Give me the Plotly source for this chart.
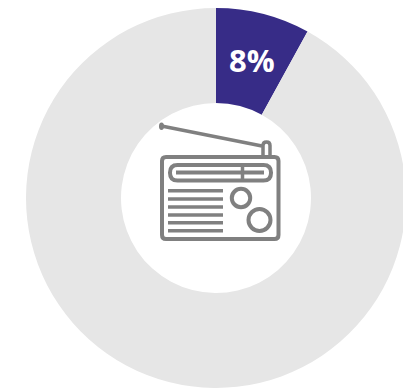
import plotly.graph_objects as go

# Share of listeners, in percent
categories = ["Radio", "Other"]
shares = [8, 92]
slice_colors = ["#372C87", "#E6E6E6"]

W, H = 406, 389
ICON = "#808080"


def line(x0, y0, x1, y1, width):
    return dict(type="line", xref="x", yref="y", x0=x0, y0=y0, x1=x1, y1=y1,
                line=dict(color=ICON, width=width))


def rounded(x0, y0, x1, y1, r, width):
    path = (f"M{x0 + r},{y0} L{x1 - r},{y0} Q{x1},{y0} {x1},{y0 + r} L{x1},{y1 - r} "
            f"Q{x1},{y1} {x1 - r},{y1} L{x0 + r},{y1} Q{x0},{y1} {x0},{y1 - r} "
            f"L{x0},{y0 + r} Q{x0},{y0} {x0 + r},{y0} Z")
    return dict(type="path", xref="x", yref="y", path=path, line=dict(color=ICON, width=width))


def ring(cx, cy, r, width):
    return dict(type="circle", xref="x", yref="y", x0=cx - r, y0=cy - r, x1=cx + r, y1=cy + r,
                line=dict(color=ICON, width=width))


# Radio pictogram in the hole of the ring, in pixel units
radio_icon = [
    rounded(162, 157, 278.5, 239, 4, 4),
    rounded(170, 165, 271, 180.5, 7.5, 4),
    line(176, 172.5, 264, 172.5, 4),
    line(242.5, 165, 242.5, 180, 3.5),
    line(161.5, 126, 262, 146, 3.5),
    dict(type="circle", xref="x", yref="y", x0=159, y0=122.5, x1=164, y1=130,
         fillcolor=ICON, line=dict(width=0)),
    dict(type="path", xref="x", yref="y",
         path="M263,155 L263,145.5 Q263,142 266.5,142 Q270,142 270,145.5 L270,155",
         line=dict(color=ICON, width=3.5)),
    ring(241, 198, 9.2, 4),
    ring(259.5, 220, 11, 4),
]
for y in (190.7, 199, 207, 215, 222.7, 230.7):
    radio_icon.append(line(168, y, 223, y, 3.5))

fig = go.Figure(
    go.Pie(
        labels=categories,
        values=shares,
        textinfo="none",
        marker=dict(colors=slice_colors, line=dict(width=0)),
        hole=0.5,
        sort=False,
        direction="clockwise",
        rotation=0,
        showlegend=False,
        hoverinfo="label+percent",
        domain=dict(x=[26 / W, 1], y=[1 / H, 1 - 8 / H]),
    )
)

fig.update_layout(
    width=W,
    height=H,
    margin=dict(l=0, r=0, t=0, b=0),
    paper_bgcolor="white",
    plot_bgcolor="rgba(0,0,0,0)",
    xaxis=dict(range=[0, W], visible=False, fixedrange=True),
    yaxis=dict(range=[H, 0], visible=False, fixedrange=True),
    shapes=radio_icon,
    annotations=[
        dict(
            text=f"{shares[0]}%",
            xref="x",
            yref="y",
            x=252,
            y=59.5,
            showarrow=False,
            xanchor="center",
            yanchor="middle",
            font=dict(family="Open Sans", size=31, color="white", weight=700),
        )
    ],
)

fig.write_html(
    "out.html",
    config=dict(displayModeBar=False),
    post_script="document.documentElement.style.overflow='hidden';document.body.style.overflow='hidden';",
)
